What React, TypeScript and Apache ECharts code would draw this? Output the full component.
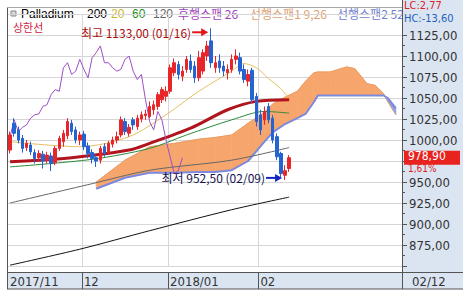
import React, { useEffect, useRef } from "react";
import * as echarts from "echarts";

// ---------- data ----------
const dates: string[] = [
  "11/06", "11/07", "11/08", "11/09", "11/10", "11/13", "11/14", "11/15", "11/16", "11/17",
  "11/20", "11/21", "11/22", "11/24", "11/27", "11/28", "11/29", "11/30",
  "12/01", "12/04", "12/05", "12/06", "12/07", "12/08", "12/11", "12/12", "12/13", "12/14",
  "12/15", "12/18", "12/19", "12/20", "12/21", "12/22", "12/25", "12/26", "12/27", "12/28", "12/29",
  "01/02", "01/03", "01/04", "01/05", "01/08", "01/09", "01/10", "01/11", "01/12", "01/15",
  "01/16", "01/17", "01/18", "01/19", "01/22", "01/23", "01/24", "01/25", "01/26", "01/29",
  "01/30", "01/31",
  "02/01", "02/02", "02/05", "02/06", "02/07", "02/08", "02/09", "02/12",
];

// [open, close, low, high]
const candles: number[][] = [
  [988, 1006, 984, 1010], [1020, 1008, 1004, 1026], [1012, 1000, 996, 1016], [1002, 990, 985, 1006],
  [991, 996, 987, 1000], [994, 986, 982, 998], [985, 978, 972, 989], [979, 984, 975, 988],
  [983, 975, 966, 987], [976, 982, 972, 986], [981, 972, 963, 985], [973, 990, 970, 993],
  [990, 1002, 987, 1005], [998, 1008, 992, 1012], [1005, 1022, 1001, 1026], [1020, 1010, 1006, 1024],
  [1012, 1000, 996, 1016], [1000, 1006, 994, 1010],
  [1007, 992, 988, 1011], [993, 984, 978, 997], [985, 978, 972, 989], [979, 975, 968, 983],
  [976, 990, 972, 993], [992, 984, 980, 996], [985, 996, 982, 999], [995, 1000, 991, 1004],
  [1000, 1004, 996, 1010], [1006, 1024, 1003, 1028], [1022, 1010, 1006, 1026], [1008, 1015, 1004, 1019],
  [1024, 1018, 1012, 1027], [1016, 1026, 1012, 1030], [1025, 1030, 1021, 1034], [1029, 1031, 1024, 1036],
  [1028, 1040, 1026, 1046], [1036, 1042, 1030, 1047], [1040, 1054, 1036, 1057], [1048, 1060, 1044, 1063],
  [1052, 1058, 1046, 1064],
  [1058, 1086, 1055, 1090], [1080, 1092, 1076, 1097], [1090, 1078, 1072, 1094], [1076, 1082, 1070, 1088],
  [1084, 1096, 1080, 1100], [1094, 1084, 1080, 1102], [1088, 1074, 1068, 1094], [1074, 1098, 1070, 1106],
  [1082, 1104, 1078, 1108], [1100, 1112, 1094, 1118], [1118, 1092, 1086, 1133], [1086, 1092, 1080, 1100],
  [1094, 1086, 1080, 1102], [1088, 1082, 1076, 1094], [1080, 1084, 1072, 1090], [1084, 1096, 1080, 1102],
  [1096, 1100, 1090, 1108], [1098, 1082, 1078, 1104], [1084, 1072, 1068, 1090], [1070, 1078, 1064, 1084],
  [1083, 1048, 1044, 1086], [1052, 1022, 1016, 1056],
  [1030, 1012, 1006, 1036], [1024, 1034, 1018, 1040], [1040, 1024, 1020, 1044], [1026, 1000, 996, 1030],
  [1004, 980, 976, 1008], [984, 960, 956, 986], [958, 963.4, 952.5, 970], [966, 978.9, 962, 982],
];

const futureSlots = 27;
const monthStarts = [0, 18, 39, 61];
const monthNames = ["2017/11", "12", "2018/01", "02"];
const yMin = 850;
const yMax = 1150;
const yStep = 25;
const laggingShift = 26;

// moving-average style lines: [slot, value]
const ma200: number[][] = [[0, 851], [17, 870], [34, 892], [54, 917], [68, 932]];
const ma120: number[][] = [[0, 925], [20, 948], [34, 964], [54, 976], [68, 991]];
const ma60: number[][] = [[0, 968], [20, 977], [34, 990], [43, 1006], [54, 1024], [62, 1034], [68, 1032]];
const ma20: number[][] = [[0, 998], [17, 992], [29, 1004], [38, 1030], [46, 1058], [54, 1082], [57, 1091], [60, 1086], [63, 1073], [66, 1061], [68, 1049]];
const upperLine: number[][] = [[0, 974], [15, 979], [29, 988], [34, 996], [44, 1014], [53, 1036], [60, 1046], [68, 1048]];

// ichimoku cloud: [slot, span1, span2]
const cloud: number[][] = [
  [21, 950, 942], [28, 976, 955], [34, 992, 961], [40, 996, 961], [46, 1001, 962], [50, 1003, 962],
  [54, 1006, 964], [58, 1020, 975], [62, 1033, 998], [64, 1043, 1009], [67, 1051, 1019], [70, 1058, 1026],
  [72, 1070, 1031], [74, 1080, 1045], [75, 1081, 1053], [78, 1081, 1053], [82, 1087, 1053], [84, 1085, 1053],
  [87, 1067, 1053], [89, 1065, 1053], [91, 1055, 1053], [92, 1046, 1050], [94, 1030, 1038],
];

const lcText = "LC:2,77";
const hcText = "HC:-13,60";

// ---------- styling ----------
const NUM_FONT = "'Liberation Sans Narrow', 'Arial Narrow', 'DejaVu Sans Condensed', 'Liberation Sans', sans-serif";
const KR_FONT = "'Noto Sans CJK KR', 'Noto Sans CJK SC', sans-serif";
const LAT_FONT = "'Liberation Sans', Arial, sans-serif";
const PANEL = "#dbe5f1";
const FRAME = "#555";
const GRIDC = "#d6d6d6";

const fmt = (v: number) => v.toFixed(2).replace(".", ",");

export default function App() {
  const ref = useRef<HTMLDivElement>(null);

  useEffect(() => {
    if (!ref.current) return;
    const chart = echarts.init(ref.current, null, { renderer: "svg", width: 469, height: 297 });

    const categories = dates.concat(Array.from({ length: futureSlots }, (_, i) => "+" + (i + 1)));
    const closes = candles.map((c) => c[1]);
    const lagging = closes.slice(laggingShift).map((c, i) => [i, c]);
    const isMonth = (i: number) => monthStarts.indexOf(i) >= 0;
    const last = candles.length - 1;
    const lastClose = candles[last][1];

    const option: any = {
      animation: false,
      backgroundColor: "#fff",
      grid: { left: 8, right: 67, top: 14, bottom: 31 },
      xAxis: {
        type: "category",
        data: categories,
        boundaryGap: true,
        offset: 6,
        z: 2,
        axisLine: { show: true, lineStyle: { color: FRAME, width: 1 } },
        axisTick: { show: true, interval: (i: number) => isMonth(i) && i > 0, length: 17, lineStyle: { color: FRAME } },
        axisLabel: {
          interval: (i: number) => isMonth(i),
          formatter: (_v: string, i: number) => monthNames[monthStarts.indexOf(i)] || "",
          align: "left",
          margin: 3,
          fontSize: 13,
          fontFamily: NUM_FONT,
          color: "#333",
        },
        splitLine: { show: true, interval: (i: number) => isMonth(i) && i > 0, lineStyle: { color: GRIDC } },
      },
      yAxis: {
        type: "value",
        position: "right",
        min: yMin,
        max: yMax,
        interval: yStep,
        z: 2,
        axisLine: { show: true, lineStyle: { color: FRAME } },
        axisTick: { show: true, length: 5, lineStyle: { color: FRAME } },
        minorTick: { show: true, splitNumber: 2, length: 3, lineStyle: { color: FRAME } },
        axisLabel: {
          // the label hidden under the current-price box is left out
          formatter: (v: number) => (Math.abs(v - lastClose) < 12 ? "" : fmt(v)),
          showMinLabel: false,
          showMaxLabel: false,
          margin: 7,
          fontSize: 13,
          fontFamily: NUM_FONT,
          color: "#333",
        },
        splitLine: { show: true, lineStyle: { color: GRIDC } },
      },
      series: [
        {
          type: "custom",
          name: "cloud",
          z: 3,
          silent: true,
          data: cloud,
          encode: { x: 0, y: [1, 2] },
          renderItem: (params: any, api: any) => {
            const i = params.dataIndex;
            if (i >= cloud.length - 1) return null;
            const a = cloud[i];
            const b = cloud[i + 1];
            const p1 = api.coord([a[0], a[1]]);
            const p2 = api.coord([b[0], b[1]]);
            const p3 = api.coord([b[0], b[2]]);
            const p4 = api.coord([a[0], a[2]]);
            const up = a[1] + b[1] >= a[2] + b[2];
            const col = up ? "#f6a66c" : "#8ea0ea";
            return { type: "polygon", shape: { points: [p1, p2, p3, p4] }, style: { fill: col, stroke: col, lineWidth: 0.7 } };
          },
        },
        { type: "line", name: "span1", z: 4, data: cloud.map((r) => [r[0], r[1]]), showSymbol: false, lineStyle: { color: "#ec9c62", width: 1 } },
        { type: "line", name: "span2", z: 4, data: cloud.map((r) => [r[0], r[2]]), showSymbol: false, lineStyle: { color: "#7c8ade", width: 2 } },
        { type: "line", name: "200", z: 4, data: ma200, showSymbol: false, smooth: 0.3, lineStyle: { color: "#111", width: 1 } },
        { type: "line", name: "120", z: 4, data: ma120, showSymbol: false, smooth: 0.3, lineStyle: { color: "#666", width: 1 } },
        { type: "line", name: "60", z: 4, data: ma60, showSymbol: false, smooth: 0.3, lineStyle: { color: "#2a8a3a", width: 1 } },
        { type: "line", name: "20", z: 4, data: ma20, showSymbol: false, smooth: 0.3, lineStyle: { color: "#e6c062", width: 1 } },
        { type: "line", name: "상한선", z: 4, data: upperLine, showSymbol: false, smooth: 0.3, lineStyle: { color: "#b0141c", width: 3 } },
        { type: "line", name: "후행스팬", z: 4, data: lagging, showSymbol: false, lineStyle: { color: "#9d4fc6", width: 1 } },
        {
          type: "candlestick",
          name: "Palladium",
          z: 5,
          data: candles,
          barWidth: 3,
          itemStyle: { color: "#e8262a", color0: "#2463d0", borderColor: "#e8262a", borderColor0: "#2463d0", borderWidth: 1 },
        },
      ],
    };
    chart.setOption(option);

    const px = (x: number, y: number) => chart.convertToPixel({ gridIndex: 0 } as any, [x, y]) as number[];

    // find high / low from data
    let hi = 0, lo = 0;
    candles.forEach((c, i) => {
      if (c[3] > candles[hi][3]) hi = i;
      if (c[2] < candles[lo][2]) lo = i;
    });
    const hp = px(hi, candles[hi][3]);
    const lp = px(lo, candles[lo][2]);
    const prevClose = candles[last - 1][1];
    const pct = (((lastClose - prevClose) / prevClose) * 100).toFixed(2).replace(".", ",") + "%";
    const cp = px(last, lastClose);

    const hx = hp[0] - 3, hy = hp[1] + 4;
    const lx = lp[0] - 3, ly = lp[1] - 2;

    const txt = (x: number, y: number, text: string, fill: string, fontSize: number, fontFamily: string, z = 0, align = "left") => ({
      type: "text",
      x,
      y,
      z,
      silent: true,
      style: { text, fill, fontSize, fontFamily, align, verticalAlign: "middle" },
    });
    const line = (x1: number, y1: number, x2: number, y2: number, stroke: string, z = 6, w = 1) => ({
      type: "line",
      z,
      silent: true,
      shape: { x1, y1, x2, y2 },
      style: { stroke, lineWidth: w },
    });

    const elements: any[] = [
      // panels
      { type: "rect", z: 1, silent: true, shape: { x: 402, y: 0, width: 61, height: 289 }, style: { fill: PANEL } },
      { type: "rect", z: 1, silent: true, shape: { x: 8, y: 272, width: 455, height: 17 }, style: { fill: PANEL } },
      // frame
      line(7.5, 7, 7.5, 289, FRAME),
      line(7, 7.5, 402, 7.5, "#a8a8a8"),
      line(7, 272.5, 463, 272.5, FRAME),
      line(7, 289, 463, 289, FRAME),
      line(402.5, 0, 402.5, 289, FRAME),
      // legend
      { type: "rect", z: 0, silent: true, shape: { x: 11, y: 11, width: 5, height: 5 }, style: { fill: "#d8d8d8", stroke: "#888", lineWidth: 1 } },
      txt(21, 13.5, "Palladium", "#000", 12, LAT_FONT),
      txt(87, 13.5, "200", "#000", 12, LAT_FONT),
      txt(111, 13.5, "20", "#c9b52a", 12, LAT_FONT),
      txt(132, 13.5, "60", "#1e8c1e", 12, LAT_FONT),
      txt(153, 13.5, "120", "#666", 12, LAT_FONT),
      txt(178, 13.5, "후행스팬 26", "#a040c0", 12, KR_FONT),
      txt(250, 13.5, "선행스팬1 9,26", "#e0a070", 12, KR_FONT),
      txt(337, 13.5, "선행스팬2 52", "#7080d0", 12, KR_FONT),
      txt(13, 27, "상한선", "#d02040", 11, KR_FONT),
      // LC / HC box
      { type: "rect", z: 7, silent: true, shape: { x: 403, y: 0, width: 60, height: 25 }, style: { fill: PANEL } },
      txt(404, 5.5, lcText, "#e0201c", 11, NUM_FONT, 8),
      txt(404, 18, hcText, "#1f5fbf", 11, NUM_FONT, 8),
      // current price
      { type: "rect", z: 7, silent: true, shape: { x: 404, y: cp[1] - 7, width: 56, height: 14 }, style: { fill: "#e8221e" } },
      txt(408, cp[1] - 1.5, fmt(lastClose), "#fff", 12, NUM_FONT, 8),
      txt(408, cp[1] + 10.8, pct, "#e0201c", 10, NUM_FONT, 6),
      // last date in band
      txt(412, 281, dates[last], "#333", 13, NUM_FONT, 6),
      // high annotation
      txt(hx - 17, hy, `최고 ${fmt(candles[hi][3])} (${dates[hi]})`, "#a80c0c", 12, KR_FONT, 6, "right"),
      line(hx - 16, hy, hx - 6, hy, "#e01818", 6, 2),
      { type: "polygon", z: 6, silent: true, shape: { points: [[hx, hy], [hx - 7, hy - 4], [hx - 7, hy + 4]] }, style: { fill: "#e01818" } },
      // low annotation
      txt(lx - 17, ly, `최저 ${fmt(candles[lo][2])} (${dates[lo]})`, "#141450", 12, KR_FONT, 6, "right"),
      line(lx - 16, ly, lx - 6, ly, "#1428c0", 6, 2),
      { type: "polygon", z: 6, silent: true, shape: { points: [[lx, ly], [lx - 7, ly - 4], [lx - 7, ly + 4]] }, style: { fill: "#1428c0" } },
    ];
    chart.setOption({ graphic: { elements } });

    return () => chart.dispose();
  }, []);

  return <div ref={ref} style={{ position: "fixed", left: 0, top: 0, width: 469, height: 297, background: "#fff" }} />;
}
